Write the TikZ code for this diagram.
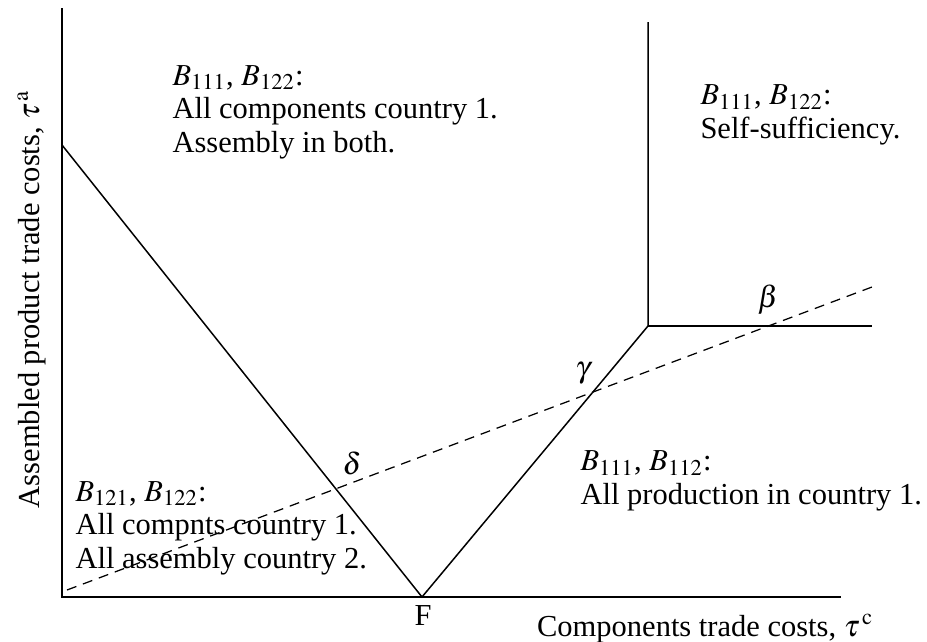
\documentclass[tikz,border=0pt]{standalone}
\usepackage{mathptmx}
\usepackage{fontspec}
\setmainfont{Liberation Serif}
\usepackage{tikz}
\usetikzlibrary{positioning, calc}
\tikzset{
  axisline/.style={line width=0.8pt, black},
  bound/.style={line width=0.6pt, black},
  costline/.style={line width=0.5pt, black, dash pattern=on 4pt off 2.8pt},
  regiontext/.style={font=\fontsize{12.2}{13.4}\selectfont, align=left, anchor=base west, inner sep=0pt},
  pointlbl/.style={font=\fontsize{12.2}{13.4}\selectfont, inner sep=0pt}
}

\begin{document}
\begin{tikzpicture}[x=0.4pt, y=-0.4pt]
\useasboundingbox (0,0) rectangle (927,641);
% axes
\coordinate (origin) at (62,597);
\coordinate (ytop) at (62,8);
\coordinate (xend) at (841,597);
\draw[axisline] (ytop) -- (origin) -- (xend);
% regime boundaries
\coordinate (leftstart) at (62,145);
\coordinate (fpt) at (422,597);
\coordinate (kink) at (648,326);
\coordinate (vtop) at (648,22);
\coordinate (hend) at (872,326);
\draw[bound] (leftstart) -- (fpt) -- (kink) -- (vtop);
\draw[bound] (kink) -- (hend);
% dashed cost line
\coordinate (dstart) at (67,590);
\coordinate (dend) at (872,287);
\draw[costline] (dstart) -- (dend);
% point labels
\node[pointlbl] (delta) at (352,463) {$\delta$};
\node[pointlbl] (gamma) at (583,373) {$\gamma$};
\node[pointlbl] (beta) at (768,300) {$\beta$};
\node[pointlbl, anchor=base] (flbl) at (423,625) {F};
% regions (anchored on the last line)
\node[regiontext] (topleft) at (172,152)
  {$B_{111}$, $B_{122}$:\\All components country 1.\\Assembly in both.};
\node[regiontext] (topright) at (700,138)
  {$B_{111}$, $B_{122}$:\\Self-sufficiency.};
\node[regiontext] (botleft) at (75,568)
  {$B_{121}$, $B_{122}$:\\All compnts country 1.\\All assembly country 2.};
\node[regiontext] (botright) at (580,504)
  {$B_{111}$, $B_{112}$:\\All production in country 1.};
% axis labels
\node[pointlbl, anchor=base east] (xlbl) at (874,636) {Components trade costs, $\tau^{\,\mathrm{c}}$};
\node[pointlbl, anchor=base, rotate=90] (ylbl) at (39,299) {Assembled product trade costs, $\tau^{\,\mathrm{a}}$};
\end{tikzpicture}
\end{document}
